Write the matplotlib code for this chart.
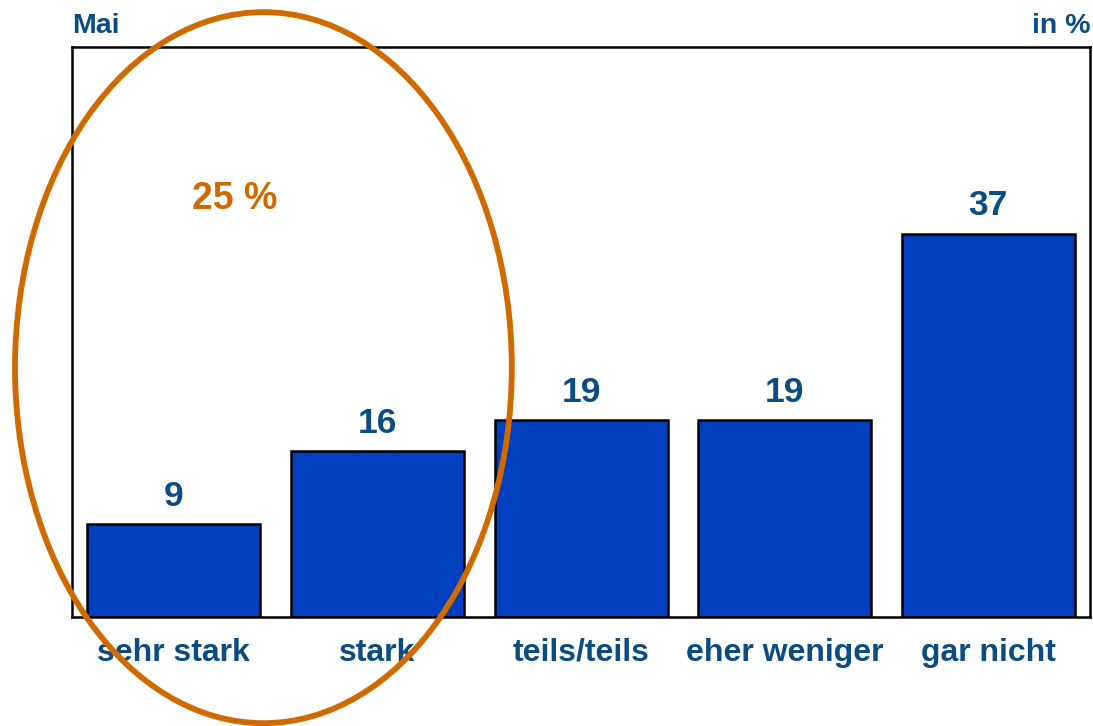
import matplotlib.pyplot as plt
from matplotlib.patches import Ellipse

plt.rcParams['font.family'] = ['Liberation Sans', 'DejaVu Sans']

kategorien = ['sehr stark', 'stark', 'teils/teils', 'eher weniger', 'gar nicht']
werte = [9, 16, 19, 19, 37]
summe_stark = 25

dunkelblau = '#0B4C82'
balkenblau = '#0040C0'
orange = '#D06A00'

fig = plt.figure(figsize=(10.93, 7.26), dpi=100)
ax = fig.add_axes([0.0659, 0.1501, 0.9314, 0.7852])

x = list(range(len(werte)))
ax.bar(x, werte, width=0.85, color=balkenblau, edgecolor='black', linewidth=1.8, zorder=2)

for xi, w in zip(x, werte):
    ax.annotate(str(w), (xi, w), xytext=(0, 13), textcoords='offset points',
                ha='center', va='baseline', fontsize=25.5, fontweight='bold', color=dunkelblau)

ax.set_xlim(-0.5, 4.5)
ax.set_ylim(0, 55)
ax.set_xticks(x)
ax.set_xticklabels(kategorien, fontsize=23, fontweight='bold', color=dunkelblau)
ax.tick_params(axis='x', length=0, pad=15)
ax.set_yticks([])
for s in ax.spines.values():
    s.set_linewidth(1.8)

fig.text(0.0659, 0.964, 'Mai', fontsize=20.5, fontweight='bold', color=dunkelblau, ha='left', va='center')
fig.text(0.9973, 0.964, 'in %', fontsize=20.5, fontweight='bold', color=dunkelblau, ha='right', va='center')

# Ellipse um "sehr stark" und "stark"
ell = Ellipse((0.44, 24.06), 2.44, 68.6, fill=False, edgecolor=orange, linewidth=4.2,
              clip_on=False, zorder=5)
ax.add_patch(ell)
ax.text(0.30, 40.3, f'{summe_stark} %', ha='center', va='center', fontsize=27,
        fontweight='bold', color=orange)

fig.savefig('out.png', dpi=100)
